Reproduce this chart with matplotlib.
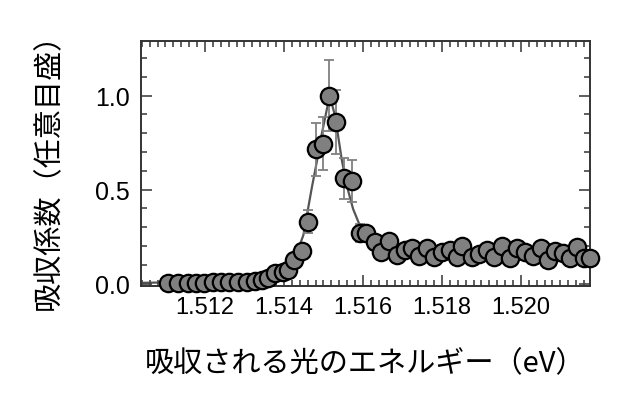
import numpy as np
import matplotlib
matplotlib.use("Agg")
import matplotlib.pyplot as plt
from matplotlib.ticker import MultipleLocator

# measured absorption (photon energy in eV, normalized absorption)
energia = [1.51107, 1.51132, 1.51156, 1.51177, 1.51198, 1.51220, 1.51241, 1.51262,
           1.51284, 1.51306, 1.51327, 1.51344, 1.51360, 1.51377, 1.51397, 1.51411,
           1.51425, 1.51445, 1.51462, 1.51481, 1.51500, 1.51515, 1.51533, 1.51552,
           1.51573, 1.51592, 1.51608, 1.51630, 1.51646, 1.51667, 1.51685, 1.51706,
           1.51723, 1.51743, 1.51762, 1.51780, 1.51799, 1.51820, 1.51837, 1.51851,
           1.51877, 1.51895, 1.51914, 1.51932, 1.51951, 1.51972, 1.51991, 1.52010,
           1.52030, 1.52050, 1.52069, 1.52086, 1.52106, 1.52124, 1.52141, 1.52161,
           1.52174]
absorcao = [0.005, 0.005, 0.005, 0.005, 0.006, 0.007, 0.007, 0.008,
            0.008, 0.010, 0.015, 0.020, 0.030, 0.055, 0.065, 0.075,
            0.125, 0.175, 0.330, 0.715, 0.745, 1.000, 0.860, 0.560,
            0.545, 0.270, 0.270, 0.222, 0.170, 0.227, 0.155, 0.177,
            0.190, 0.147, 0.190, 0.142, 0.168, 0.177, 0.142, 0.200,
            0.142, 0.160, 0.177, 0.142, 0.200, 0.136, 0.190, 0.168,
            0.150, 0.190, 0.124, 0.172, 0.165, 0.136, 0.195, 0.136,
            0.136]
erro = [0, 0, 0, 0, 0, 0, 0, 0,
        0, 0, 0, 0, 0, 0, 0, 0,
        0, 0, 0.06, 0.14, 0.14, 0.19, 0.17, 0.11,
        0.11, 0.05, 0, 0, 0, 0, 0, 0,
        0, 0, 0, 0, 0, 0, 0, 0,
        0, 0, 0, 0, 0, 0, 0, 0,
        0, 0, 0, 0, 0, 0, 0, 0,
        0]

# fitted curve
energia_ajuste = [1.51040, 1.51280, 1.51340, 1.51380, 1.51410, 1.51430, 1.51449,
                  1.51470, 1.51483, 1.51495, 1.51508, 1.51516, 1.51529, 1.51537,
                  1.51546, 1.51559, 1.51575, 1.51592, 1.51609, 1.51630, 1.51670,
                  1.51750, 1.51900, 1.52175]
ajuste = [0.005, 0.012, 0.025, 0.050, 0.090, 0.150, 0.257,
          0.504, 0.646, 0.788, 0.921, 1.000, 0.894, 0.788,
          0.664, 0.522, 0.398, 0.310, 0.239, 0.200, 0.175,
          0.165, 0.160, 0.160]

yticks = [0.0, 0.5, 1.0]
xticks = [1.512, 1.514, 1.516, 1.518, 1.520]

fonte_jp = ['Noto Sans CJK JP', 'DejaVu Sans']
plt.rcParams['font.family'] = ['Liberation Sans', 'DejaVu Sans']

fig = plt.figure(figsize=(6.4, 4.1), dpi=100)
ax = fig.add_axes([0.2203, 0.30, 0.7016, 0.5976])

ax.plot(energia_ajuste, ajuste, color='#555555', linewidth=1.6, zorder=1)

x = np.array(energia)
y = np.array(absorcao)
e = np.array(erro)
m = e > 0
ax.errorbar(x[m], y[m], yerr=e[m], fmt='none', ecolor='#808080',
            elinewidth=1.3, capsize=3.5, capthick=1.3, zorder=2)
ax.plot(x, y, 'o', markersize=12.5, markerfacecolor='#808080',
        markeredgecolor='black', markeredgewidth=1.6, zorder=3, clip_on=False)

ax.set_xlim(1.51038, 1.52175)
ax.set_ylim(-0.012, 1.29)
ax.set_xticks(xticks)
ax.set_xticklabels([f"{v:.3f}" for v in xticks])
ax.set_yticks(yticks)
ax.set_yticklabels([f"{v:.1f}" for v in yticks])
ax.xaxis.set_minor_locator(MultipleLocator(0.0002))
ax.yaxis.set_minor_locator(MultipleLocator(0.1))

ax.tick_params(which='both', direction='in', top=True, right=True,
               color='#444444', width=1.2)
ax.tick_params(which='major', length=8)
ax.tick_params(which='minor', length=4.5)
ax.tick_params(axis='x', labelsize=17, pad=7)
ax.tick_params(axis='y', labelsize=18, pad=8)

for s in ax.spines.values():
    s.set_color('#333333')
    s.set_linewidth(1.4)

ax.set_xlabel('吸収される光のエネルギー（eV）', family=fonte_jp, fontsize=21, labelpad=22)
ax.set_ylabel('吸収係数（任意目盛）', family=fonte_jp, fontsize=21, labelpad=22)

plt.savefig('out.png', dpi=100)
